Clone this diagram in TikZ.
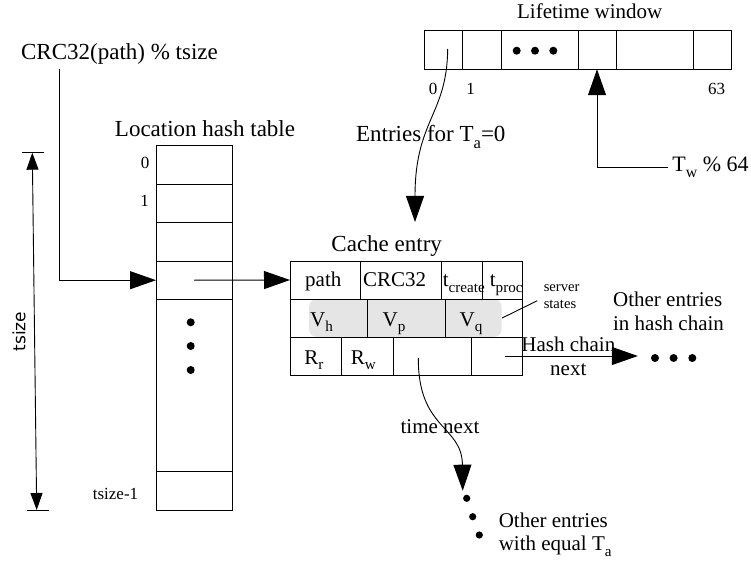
\documentclass[tikz,border=0pt]{standalone}
\usepackage{fontspec}
\usepackage{graphicx}
\setmainfont{Liberation Serif}
\newfontfamily\dejavu{DejaVu Sans}
\newcommand{\lsub}[1]{\raisebox{-0.28em}{\scalebox{0.72}{#1}}}
\usetikzlibrary{arrows.meta}

\begin{document}
\begin{tikzpicture}[x=1pt, y=-1pt, line width=0.9pt,
    cell/.style={draw, inner sep=0pt, outer sep=0pt, minimum height=38pt},
    bigtxt/.style={inner sep=0pt, anchor=base, font=\fontsize{23}{25}\selectfont},
    midtxt/.style={inner sep=0pt, anchor=base, font=\fontsize{21}{23.3}\selectfont},
    idxtxt/.style={inner sep=0pt, anchor=base, font=\fontsize{17}{19}\selectfont},
    bigarrow/.style={-{Triangle[length=26pt,width=18pt]}},
    dimarrow/.style={{Triangle[length=17pt,width=12pt]}-{Triangle[length=17pt,width=12pt]}}]
\useasboundingbox (0,0) rectangle (751,561);

% lifetime window
\node[midtxt] (lwtitle) at (589.7,18.3) {Lifetime window};
\node[cell, minimum height=38.5pt, minimum width=38pt] (lw0) at (443.5,50) {};
\node[cell, minimum height=38.5pt, minimum width=38.5pt] (lw1) at (481.75,50) {};
\node[cell, minimum height=38.5pt, minimum width=77pt] (lwdots) at (539.5,50) {};
\node[cell, minimum height=38.5pt, minimum width=38pt] (lw3) at (597,50) {};
\node[cell, minimum height=38.5pt, minimum width=77pt] (lw4) at (654.5,50) {};
\node[cell, minimum height=38.5pt, minimum width=38pt] (lw63) at (712,50) {};
\foreach \x in {516.7,535,553.3}
    \fill (\x,50.7) circle (4);
\node[idxtxt] (lwi0) at (433,95) {0};
\node[idxtxt] (lwi1) at (470.7,95) {1};
\node[idxtxt] (lwi63) at (716.7,95) {63};
\node[bigtxt, anchor=base west, font=\fontsize{22}{24}\selectfont] (tw) at (672,171.7) {T\lsub{w} \% 64};

% location hash table
\node[bigtxt] (crc) at (119.5,60) {CRC32(path) \% tsize};
\node[bigtxt] (httitle) at (205,136.7) {Location hash table};
\foreach \i/\y in {0/165,1/203.4,2/241.8,3/280.2}
    \node[cell, minimum height=38.4pt, minimum width=76pt] (h\i) at (194,\y) {};
\node[cell, minimum height=172.2pt, minimum width=76pt] (hmid) at (194,385.5) {};
\node[cell, minimum height=38.4pt, minimum width=76pt] (hlast) at (194,490.8) {};
\foreach \y in {322.3,346,370}
    \fill (190.7,\y) circle (4);
\node[idxtxt] (hi0) at (145,168.3) {0};
\node[idxtxt] (hi1) at (144.5,206.7) {1};
\node[idxtxt] (hilast) at (115.5,499.3) {tsize-1};
\coordinate (dimtop) at (32.3,152.7);
\coordinate (dimbot) at (36.7,510);
\node[inner sep=0pt, rotate=90, font=\dejavu\fontsize{17}{19}\selectfont] (tsize) at (19,331.7) {tsize};

% cache entry
\node[bigtxt] (cetitle) at (386.7,251.7) {Cache entry};
\node[fill=black!10, rounded corners=8pt, inner sep=0pt, minimum width=192.7pt, minimum height=38pt] (vstates) at (405.35,318) {};
\node[cell, minimum width=70pt] (path) at (325,280) {};
\node[cell, minimum width=81.7pt] (crcc) at (400.85,280) {};
\node[cell, minimum width=40.3pt] (tcr) at (461.85,280) {};
\node[cell, minimum width=40.3pt] (tpr) at (502.15,280) {};
\node[cell, minimum width=77.3pt] (vh) at (328.65,318) {};
\node[cell, minimum width=77.7pt] (vp) at (406.15,318) {};
\node[cell, minimum width=77.3pt] (vq) at (483.65,318) {};
\node[cell, minimum width=51.7pt] (rr) at (315.85,356) {};
\node[cell, minimum width=51.6pt] (rw) at (367.5,356) {};
\node[cell, minimum width=77.7pt] (tnext) at (432.15,356) {};
\node[cell, minimum width=51.3pt] (hnext) at (496.65,356) {};
\node[midtxt] (pathl) at (323.3,286.7) {path};
\node[midtxt] (crcl) at (394.7,286.7) {CRC32};
\node[midtxt] (tcrl) at (463.8,286.7) {t\lsub{create}};
\node[midtxt] (tprl) at (506.2,286.7) {t\lsub{proc}};
\node[midtxt] (vhl) at (321.5,326) {V\lsub{h}};
\node[midtxt] (vpl) at (394,326) {V\lsub{p}};
\node[midtxt] (vql) at (471,326) {V\lsub{q}};
\node[midtxt] (rrl) at (314,364) {R\lsub{r}};
\node[midtxt] (rwl) at (363.3,364) {R\lsub{w}};
\node[inner sep=0pt, anchor=base west, align=left, font=\fontsize{14.6}{16.7}\selectfont] (sstates) at (543.3,308.4) {server\\states};

% chains
\node[bigtxt] (entl) at (430.8,141.7) {Entries for T\lsub{a}=0};
\coordinate (ta0) at (447.7,49);
\coordinate (cetop) at (415,222);
\node[midtxt, align=left, anchor=base west] (otherh) at (612.7,330) {Other entries\\in hash chain};
\node[midtxt, align=center] (hcl) at (568.3,375) {Hash chain\\next};
\node[inner sep=0pt, minimum width=70.6pt, minimum height=10pt] (hdots) at (673.6,356) {};
\foreach \dx in {-18.6,0,18.7}
    \fill ([shift={(\dx,2)}]hdots.center) circle (4);
\node[midtxt] (tnl) at (440,433.3) {time next};
\coordinate (tn0) at (418.3,358);
\coordinate (tnend) at (462.7,490.7);
\foreach \x/\y in {466.7/498.3,472.7/516.7,479.3/535}
    \fill (\x,\y) circle (3.6);
\node[midtxt, align=left, anchor=base west] (othert) at (498.3,550.6) {Other entries\\with equal T\lsub{a}};

\coordinate (crcfoot) at (59.7,69);
\draw[bigarrow] (crcfoot) |- (h3.west);
\draw[bigarrow] (h3.center) -- (path.west);
\draw[dimarrow] (dimtop) -- (dimbot);
\draw ([xshift=-10]dimtop) -- ([xshift=11.4]dimtop)
      ([xshift=-9.4]dimbot) -- ([xshift=12.6]dimbot);
\draw[bigarrow] ([xshift=-4]tw.west) -| (lw3.south);
\draw[bigarrow] (ta0) .. controls (447,115) and (415,120) .. (cetop);
\draw (vstates.east) -- ([shift={(-6,4)}]sstates.west);
\draw[bigarrow] ([xshift=8]hnext.center) -- (hdots.west);
\draw[bigarrow] (tn0) .. controls (418,430) and (462,425) .. (tnend);
\end{tikzpicture}
\end{document}
